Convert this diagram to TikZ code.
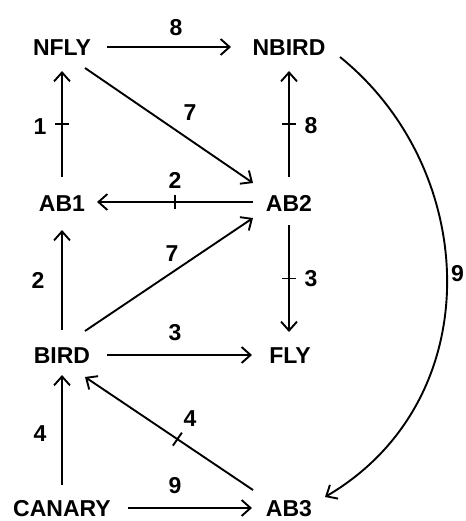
\documentclass[tikz,border=0pt]{standalone}
\usepackage{fontspec}
\setmainfont{Liberation Sans}
\usetikzlibrary{arrows.meta}
\tikzset{
  lbl/.style={inner sep=0pt, text height=17pt, text depth=0pt, font=\fontsize{23}{28}\selectfont\bfseries},
  num/.style={inner sep=0pt, text height=17pt, text depth=0pt, font=\fontsize{23}{28}\selectfont\bfseries},
  arr/.style={line width=1.9pt, -{Straight Barb[length=9pt,width=16pt,line width=1.9pt]}},
  tickline/.style={line width=1.9pt}
}
\begin{document}
\begin{tikzpicture}[x=1pt,y=-1pt]
\useasboundingbox (0,0) rectangle (465,521);
% nodes
\node[lbl] (NFLY)   at (62,47)  {NFLY};
\node[lbl] (NBIRD)  at (289,47) {NBIRD};
\node[lbl] (AB1)    at (62,203) {AB1};
\node[lbl] (AB2)    at (289,203) {AB2};
\node[lbl] (BIRD)   at (62,355) {BIRD};
\node[lbl] (FLY)    at (290,355) {FLY};
\node[lbl] (CANARY) at (62,508) {CANARY};
\node[lbl] (AB3)    at (289,508) {AB3};
% edges
\draw[arr] ([shift={(45,0)}]NFLY.center) -- ([shift={(-58,0)}]NBIRD.center);
\draw[arr] ([shift={(23,21)}]NFLY.center) -- ([shift={(-36,-20)}]AB2.center);
\draw[arr] ([shift={(0,-26)}]AB1.center) -- coordinate[pos=0.5] (t1) ([shift={(0,24)}]NFLY.center);
\draw[arr] ([shift={(0,-26)}]AB2.center) -- coordinate[pos=0.5] (t2) ([shift={(0,24)}]NBIRD.center);
\draw[arr] ([shift={(-36,-1)}]AB2.center) -- coordinate[pos=0.5] (t3) ([shift={(35,-1)}]AB1.center);
\draw[arr] ([shift={(0,-25)}]BIRD.center) -- ([shift={(0,27)}]AB1.center);
\draw[arr] ([shift={(23,-24)}]BIRD.center) -- ([shift={(-36,15)}]AB2.center);
\draw[arr] ([shift={(0,22)}]AB2.center) -- coordinate[pos=0.5] (t4) ([shift={(-1,-23)}]FLY.center);
\draw[arr] ([shift={(45,0)}]BIRD.center) -- ([shift={(-38,0)}]FLY.center);
\draw[arr] ([shift={(0,-23)}]CANARY.center) -- ([shift={(0,20)}]BIRD.center);
\draw[arr] ([shift={(-36,-18)}]AB3.center) -- coordinate[pos=0.45] (t5) ([shift={(23,22)}]BIRD.center);
\draw[arr] ([shift={(66,0)}]CANARY.center) -- ([shift={(-37,0)}]AB3.center);
\draw[arr] ([shift={(51,10)}]NBIRD.center) .. controls (480,170) and (490,400) .. ([shift={(36,-11)}]AB3.center);
% ticks
\draw[tickline] ([shift={(-7,0)}]t1) -- ([shift={(7,0)}]t1);
\draw[tickline] ([shift={(-7,0)}]t2) -- ([shift={(7,0)}]t2);
\draw[tickline] ([shift={(0,-7)}]t3) -- ([shift={(0,7)}]t3);
\draw[tickline] ([shift={(-7,0)}]t4) -- ([shift={(7,0)}]t4);
\draw[tickline] ([shift={(-4.5,6.5)}]t5) -- ([shift={(4.5,-6.5)}]t5);
% labels
\node[num] (n8a) at (176,27) {8};
\node[num] (n7a) at (190,112) {7};
\node[num] (n1)  at (40,126) {1};
\node[num] (n8b) at (311,125) {8};
\node[num] (n2a) at (175,180) {2};
\node[num] (n7b) at (172,253) {7};
\node[num] (n2b) at (38,280) {2};
\node[num] (n3a) at (311,278) {3};
\node[num] (n3b) at (175,332) {3};
\node[num] (n4a) at (40,433) {4};
\node[num] (n4b) at (190,418) {4};
\node[num] (n9a) at (175,485) {9};
\node[num] (n9b) at (457.5,273) {9};
\end{tikzpicture}
\end{document}
